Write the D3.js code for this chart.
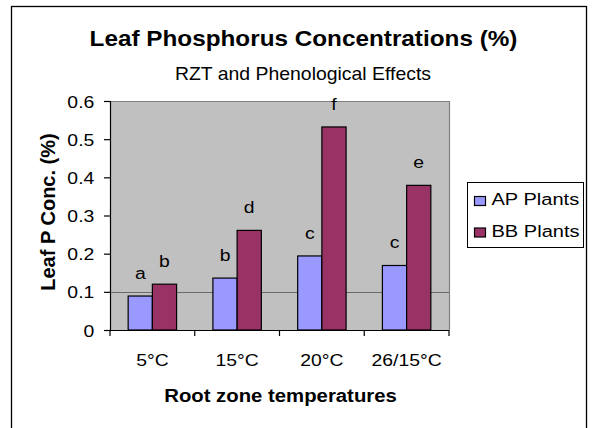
<!DOCTYPE html>
<html>
<head>
<meta charset="utf-8">
<script src="https://cdn.jsdelivr.net/npm/d3@7"></script>
<style>
  body { margin: 0; background: #fff; }
  svg { display: block; }
  text { font-family: "Liberation Sans", Arial, sans-serif; fill: #000; }
</style>
</head>
<body>
<div id="chart"></div>
<script>
// data
var categories = ["5°C", "15°C", "20°C", "26/15°C"];
var series = ["AP Plants", "BB Plants"];
var apValues = [0.089, 0.136, 0.194, 0.169];
var bbValues = [0.120, 0.261, 0.532, 0.379];
var apLetters = ["a", "b", "c", "c"];
var bbLetters = ["b", "d", "f", "e"];
var yTicks = [0, 0.1, 0.2, 0.3, 0.4, 0.5, 0.6];
var gridValues = [0.1];

var kleuren = ["#9999FF", "#993366"];
var sx = 1.14; // the original text is a bit wider than Arial

var svg = d3.select("#chart")
    .append("svg")
    .attr("width", 594)
    .attr("height", 428);

// outer chart border (runs off the bottom)
svg.append("rect")
    .attr("x", 11.5).attr("y", 6.5)
    .attr("width", 575).attr("height", 440)
    .attr("fill", "#fff")
    .attr("stroke", "#000")
    .attr("stroke-width", 1.3);

var plot = { left: 110, right: 449, top: 101, bottom: 330 };

var x = d3.scaleBand()
    .domain(categories)
    .range([plot.left, plot.right])
    .paddingInner(0).paddingOuter(0);

var xs = d3.scaleBand()
    .domain(series)
    .range([0, x.bandwidth()])
    .paddingInner(0).paddingOuter(0.75);

var y = d3.scaleLinear()
    .domain([0, 0.6])
    .range([plot.bottom, plot.top]);

// wide text helper
function tekst(parent, tx, ty, str, size, anchor, weight, scale) {
    return parent.append("text")
        .attr("transform", "translate(" + tx + "," + ty + ") scale(" + (scale || sx) + ",1)")
        .attr("text-anchor", anchor)
        .attr("font-size", size)
        .attr("font-weight", weight || "normal")
        .text(str);
}

// titles
tekst(svg, 303.5, 46, "Leaf Phosphorus Concentrations (%)", 21.5, "middle", "bold", 1.13);
tekst(svg, 303, 79.5, "RZT and Phenological Effects", 17.5, "middle", "normal", 1.11);

// plot background
svg.append("rect")
    .attr("x", plot.left).attr("y", plot.top)
    .attr("width", plot.right - plot.left)
    .attr("height", plot.bottom - plot.top)
    .attr("fill", "#C0C0C0")
    .attr("stroke", "none");

svg.append("path")
    .attr("d", "M" + plot.left + "," + (plot.top + 0.5) + "H" + (plot.right + 0.5) + "V" + plot.bottom)
    .attr("fill", "none")
    .attr("stroke", "#808080")
    .attr("stroke-width", 1.2);

// gridline
svg.selectAll("line.grid")
    .data(gridValues)
    .enter()
    .append("line")
    .attr("class", "grid")
    .attr("x1", plot.left).attr("x2", plot.right)
    .attr("y1", function (d) { return Math.round(y(d)) + 0.5; })
    .attr("y2", function (d) { return Math.round(y(d)) + 0.5; })
    .attr("stroke", "#6a6a6a")
    .attr("stroke-width", 1.2);

// bars
var groups = svg.selectAll("g.cat")
    .data(categories)
    .enter()
    .append("g")
    .attr("class", "cat")
    .attr("transform", function (d) { return "translate(" + x(d) + ",0)"; });

var waarden = [apValues, bbValues];
var letters = [apLetters, bbLetters];

series.forEach(function (s, si) {
    groups.append("rect")
        .attr("x", xs(s))
        .attr("y", function (d, i) { return y(waarden[si][i]); })
        .attr("width", xs.bandwidth())
        .attr("height", function (d, i) { return y(0) - y(waarden[si][i]); })
        .attr("fill", kleuren[si])
        .attr("stroke", "#000")
        .attr("stroke-width", 1.2);

    groups.each(function (d, i) {
        tekst(d3.select(this), xs(s) + xs.bandwidth() / 2, y(waarden[si][i]) - 17,
            letters[si][i], 17, "middle");
    });
});

// y axis
var yAxis = svg.append("g")
    .attr("transform", "translate(" + plot.left + ",0)")
    .call(d3.axisLeft(y).tickValues(yTicks).tickSize(6).tickPadding(0)
        .tickFormat(function (d) { return d === 0 ? "0" : d3.format(".1f")(d); }));
yAxis.select(".domain").attr("stroke", "#000").attr("stroke-width", 1.2);
yAxis.selectAll(".tick line").attr("stroke", "#000").attr("stroke-width", 1.2);
yAxis.selectAll(".tick text")
    .attr("x", null)
    .attr("dy", "0.36em")
    .attr("transform", "translate(-15.7,0) scale(" + sx + ",1)")
    .attr("font-size", 17)
    .attr("font-family", null)
    .attr("fill", "#000");

// x axis line with ticks at category boundaries
svg.append("line")
    .attr("x1", plot.left).attr("x2", plot.right)
    .attr("y1", plot.bottom + 0.5).attr("y2", plot.bottom + 0.5)
    .attr("stroke", "#000").attr("stroke-width", 1.2);

var grenzen = categories.map(function (c) { return x(c); }).concat([plot.right]);
svg.selectAll("line.xtick")
    .data(grenzen)
    .enter()
    .append("line")
    .attr("class", "xtick")
    .attr("x1", function (d) { return d; })
    .attr("x2", function (d) { return d; })
    .attr("y1", plot.bottom).attr("y2", plot.bottom + 6)
    .attr("stroke", "#000").attr("stroke-width", 1.2);

categories.forEach(function (c) {
    tekst(svg, x(c) + x.bandwidth() / 2, 366, c, 17, "middle");
});

// axis titles
tekst(svg, 280.5, 402, "Root zone temperatures", 18, "middle", "bold", 1.13);

svg.append("text")
    .attr("transform", "translate(55,212) rotate(-90)")
    .attr("text-anchor", "middle")
    .attr("font-size", 20)
    .attr("font-weight", "bold")
    .text("Leaf P Conc. (%)");

// legend
var legend = svg.append("g");
legend.append("rect")
    .attr("x", 467.5).attr("y", 182.5)
    .attr("width", 116).attr("height", 65)
    .attr("fill", "#fff")
    .attr("stroke", "#000")
    .attr("stroke-width", 1);

var legendY = [205, 236.5];
series.forEach(function (s, si) {
    legend.append("rect")
        .attr("x", 474.5).attr("y", legendY[si] - 8.5)
        .attr("width", 11).attr("height", 9)
        .attr("fill", kleuren[si])
        .attr("stroke", "#000")
        .attr("stroke-width", 1.2);
    tekst(legend, 491.5, legendY[si], s, 17, "start", "normal", 1.18);
});
</script>
</body>
</html>
